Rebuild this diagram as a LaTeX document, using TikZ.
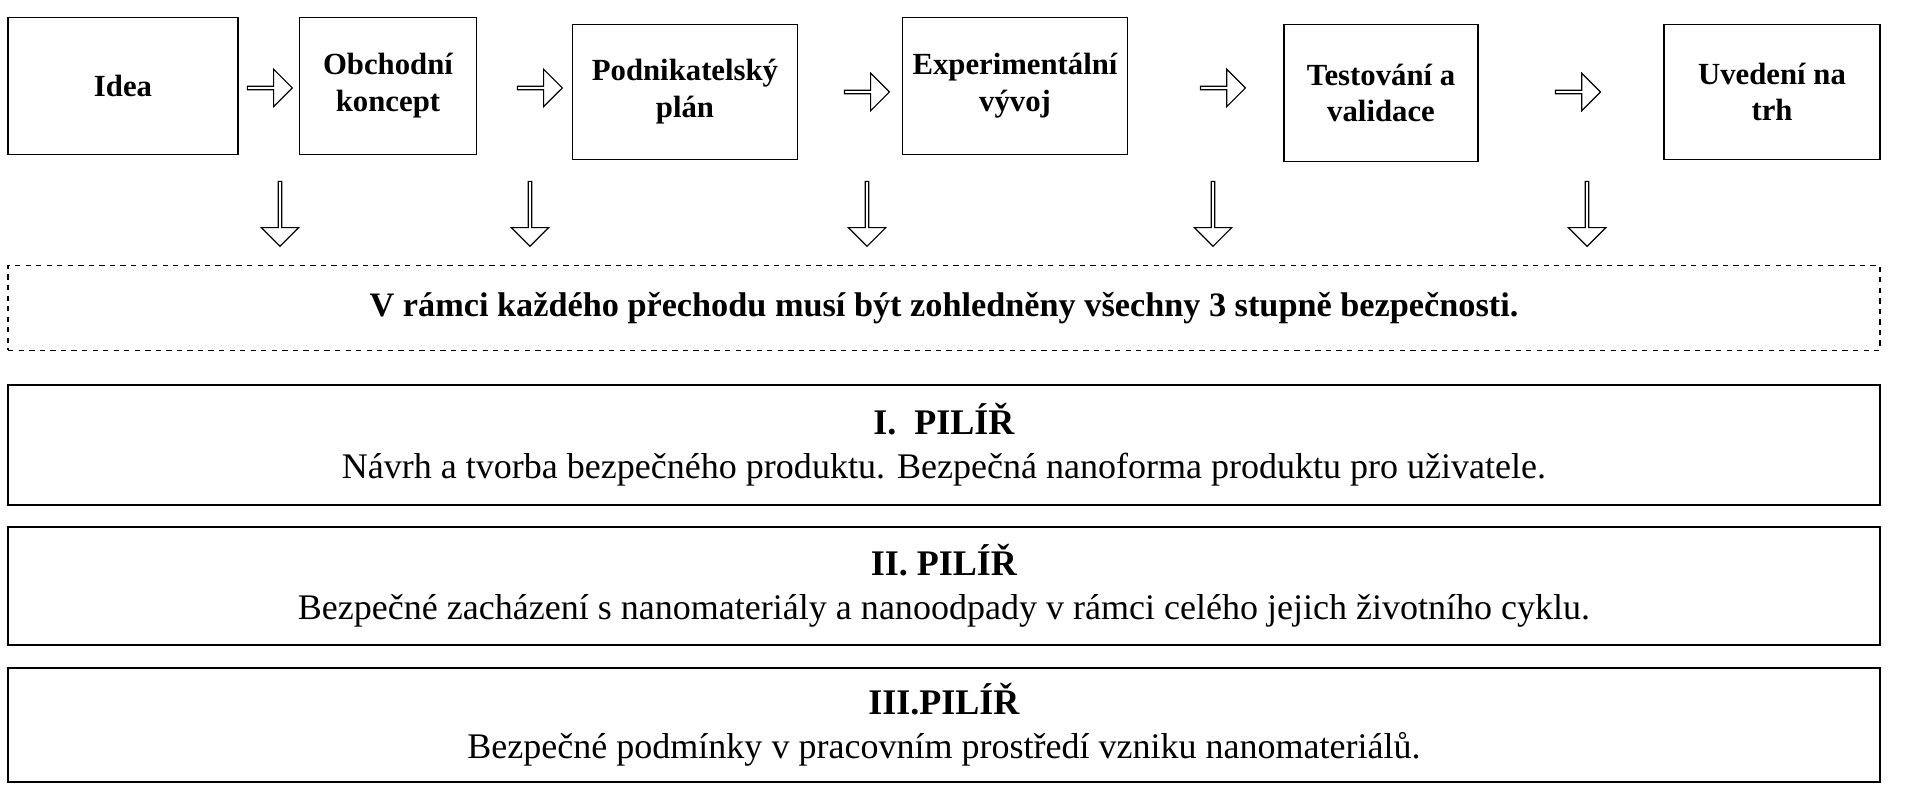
\documentclass[tikz,border=0pt]{standalone}
\usepackage{fontspec}
\setmainfont{Liberation Serif}
\usetikzlibrary{shapes.arrows}
\begin{document}
\begin{tikzpicture}[x=0.02cm,y=-0.02cm,
  box/.style={draw,line width=0.9pt,font=\fontsize{17.5}{21}\selectfont\bfseries,align=center,inner sep=0pt},
  harr/.style={single arrow,draw,line width=0.7pt,minimum height=0.9cm,minimum width=0.75cm,single arrow head extend=0.12cm,inner sep=0pt},
  varr/.style={harr,rotate=-90,minimum height=1.3cm},
  pil/.style={draw,line width=0.9pt,align=center,font=\fontsize{20.5}{25}\selectfont,inner sep=0pt}]
\useasboundingbox (0,0) rectangle (1910,800);
\node[box,minimum width=4.6cm,minimum height=2.74cm] (b1) at (123,86) {Idea};
\node[box,minimum width=3.54cm,minimum height=2.74cm] (b2) at (388,86) {Obchodní\\koncept};
\node[box,minimum width=4.5cm,minimum height=2.7cm] (b3) at (685,92) {Podnikatelský\\plán};
\node[box,minimum width=4.5cm,minimum height=2.74cm] (b4) at (1015,86) {Experimentální\\vývoj};
\node[box,minimum width=3.88cm,minimum height=2.74cm] (b5) at (1381,93) {Testování a\\validace};
\node[box,minimum width=4.32cm,minimum height=2.7cm] (b6) at (1772,92) {Uvedení na\\trh};
\node[harr] (a1) at (269,88) {};
\node[harr] (a2) at (539,88) {};
\node[harr] (a3) at (866,92) {};
\node[harr] (a4) at (1222,88) {};
\node[harr] (a5) at (1577,92) {};
\foreach \x/\n in {280/d1,530/d2,867/d3,1213/d4,1587/d5}
  \node[varr] (\n) at (\x,213) {};
\node[draw,dashed,line width=0.8pt,minimum width=37.44cm,minimum height=1.7cm,font=\fontsize{19.5}{22}\selectfont\bfseries] (ds) at (944,308)
  {V rámci každého přechodu musí být zohledněny všechny 3 stupně bezpečnosti.};
\node[pil,minimum width=37.44cm,minimum height=2.4cm] (p1) at (944,445)
  {\textbf{I.\ \ PILÍŘ}\\Návrh a tvorba bezpečného produktu. Bezpečná nanoforma produktu pro uživatele.};
\node[pil,minimum width=37.44cm,minimum height=2.36cm] (p2) at (944,586)
  {\textbf{II. PILÍŘ}\\Bezpečné zacházení s nanomateriály a nanoodpady v rámci celého jejich životního cyklu.};
\node[pil,minimum width=37.44cm,minimum height=2.28cm] (p3) at (944,725)
  {\textbf{III.PILÍŘ}\\Bezpečné podmínky v pracovním prostředí vzniku nanomateriálů.};
\end{tikzpicture}
\end{document}
